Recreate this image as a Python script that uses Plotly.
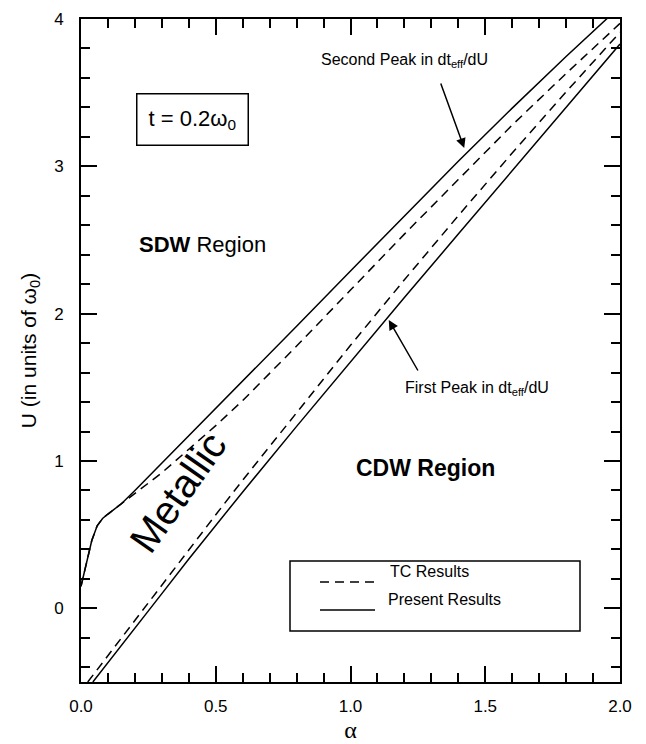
import plotly.graph_objects as go

# ---- data ----
alpha_upper = [0.00, 0.02, 0.04, 0.06, 0.08, 0.10, 0.15, 0.20, 0.30, 0.40, 0.50,
               0.60, 0.80, 1.00, 1.20, 1.40, 1.60, 1.80, 2.00]
U_present_upper = [0.15, 0.31, 0.46, 0.56, 0.61, 0.64, 0.71, 0.80, 0.985, 1.17, 1.355,
                   1.54, 1.915, 2.29, 2.665, 3.035, 3.395, 3.745, 4.085]
U_tc_upper = [0.15, 0.31, 0.46, 0.56, 0.61, 0.64, 0.71, 0.78, 0.92, 1.08, 1.24,
              1.41, 1.78, 2.16, 2.54, 2.91, 3.28, 3.63, 3.97]

alpha_tc_lower = [0.025, 0.10, 0.20, 0.30, 0.40, 0.50, 0.60, 0.80, 1.00, 1.20,
                  1.40, 1.60, 1.80, 2.00]
U_tc_lower = [-0.50, -0.32, -0.08, 0.16, 0.40, 0.635, 0.87, 1.33, 1.785, 2.23,
              2.665, 3.09, 3.505, 3.91]

alpha_present_lower = [0.044, 0.10, 0.20, 0.30, 0.40, 0.50, 0.60, 0.80, 1.00, 1.20,
                       1.40, 1.60, 1.80, 2.00]
U_present_lower = [-0.50, -0.37, -0.135, 0.10, 0.335, 0.565, 0.79, 1.235, 1.675, 2.11,
                   2.54, 2.97, 3.40, 3.83]

legend_labels = ["TC Results", "Present Results"]

FONT = "Arial, Liberation Sans, sans-serif"
DASH = "9px,6px"

fig = go.Figure()
fig.add_trace(go.Scatter(x=alpha_upper, y=U_tc_upper, mode="lines",
                         line=dict(color="black", width=1.5, dash=DASH),
                         name=legend_labels[0], showlegend=False))
fig.add_trace(go.Scatter(x=alpha_tc_lower, y=U_tc_lower, mode="lines",
                         line=dict(color="black", width=1.5, dash=DASH),
                         name=legend_labels[0], showlegend=False))
fig.add_trace(go.Scatter(x=alpha_upper, y=U_present_upper, mode="lines",
                         line=dict(color="black", width=1.5),
                         name=legend_labels[1], showlegend=False))
fig.add_trace(go.Scatter(x=alpha_present_lower, y=U_present_lower, mode="lines",
                         line=dict(color="black", width=1.5),
                         name=legend_labels[1], showlegend=False))

axis_common = dict(
    showline=True, linecolor="black", linewidth=2, mirror="ticks",
    ticks="inside", ticklen=16, tickwidth=1.5, tickcolor="black",
    showgrid=False, zeroline=False, automargin=False,
    tickfont=dict(family=FONT, size=17, color="black"),
)

fig.update_xaxes(range=[0, 2], tick0=0, dtick=0.5, tickformat=".1f",
                 minor=dict(dtick=0.1, tick0=0, ticks="inside", ticklen=9,
                            tickwidth=1.5, tickcolor="black"),
                 ticklabelstandoff=8,
                 title=dict(text="α", font=dict(family="Times New Roman, Liberation Serif, serif",
                                                size=24, color="black"), standoff=6),
                 **axis_common)
fig.update_yaxes(range=[-0.5, 4], tick0=0, dtick=1,
                 minor=dict(dtick=0.2, tick0=0, ticks="inside", ticklen=9,
                            tickwidth=1.5, tickcolor="black"),
                 ticklabelstandoff=12,
                 title=dict(text="U (in units of ω<sub>0</sub>)",
                            font=dict(family=FONT, size=21, color="black"), standoff=12),
                 **axis_common)

ann = []
ann.append(dict(x=0.415, y=3.318, xref="x", yref="y", showarrow=False,
                text="t = 0.2ω<sub>0</sub>", font=dict(family=FONT, size=22, color="black"),
                bordercolor="black", borderwidth=1.5, borderpad=11, bgcolor="white"))
ann.append(dict(x=0.208, y=2.47, xref="x", yref="y", showarrow=False, xanchor="left",
                text="<b>SDW</b> Region", font=dict(family=FONT, size=22, color="black")))
ann.append(dict(x=1.28, y=0.95, xref="x", yref="y", showarrow=False,
                text="<b>CDW Region</b>", font=dict(family=FONT, size=23, color="black")))
ann.append(dict(x=0.36, y=0.79, xref="x", yref="y", showarrow=False, textangle=-55,
                text="Metallic", font=dict(family=FONT, size=40, color="black")))
ann.append(dict(x=1.2, y=3.72, xref="x", yref="y", showarrow=False,
                text="Second Peak in dt<sub>eff</sub>/dU",
                font=dict(family=FONT, size=16, color="black")))
ann.append(dict(x=1.422, y=3.124, xref="x", yref="y", showarrow=True, text="",
                ax=-24, ay=-66, arrowhead=2, arrowsize=1.3, arrowwidth=1.5,
                arrowcolor="black"))
ann.append(dict(x=1.47, y=1.495, xref="x", yref="y", showarrow=False,
                text="First Peak in dt<sub>eff</sub>/dU",
                font=dict(family=FONT, size=16, color="black")))
ann.append(dict(x=1.142, y=1.957, xref="x", yref="y", showarrow=True, text="",
                ax=30, ay=52, arrowhead=2, arrowsize=1.3, arrowwidth=1.5,
                arrowcolor="black"))

# ---- page geometry: the page body adds an 8px margin, so the figure is
# offset by 8px; plot area is placed in page pixels below ----
PAGE_OFF = 8
W, H = 646, 744 - PAGE_OFF
PL, PR, PT, PB = 81, 620, 19, 682          # plot area in page pixels
L, R = PL - PAGE_OFF, (W + PAGE_OFF) - PR
T, B = PT - PAGE_OFF, (H + PAGE_OFF) - PB


def px(x):
    return (x - PL) / (PR - PL)


def py(y):
    return 1 - (y - PT) / (PB - PT)


shapes = [
    dict(type="rect", xref="paper", yref="paper", x0=px(290), x1=px(580),
         y0=py(631), y1=py(561), line=dict(color="black", width=1.5), fillcolor="white",
         layer="above"),
    dict(type="line", xref="paper", yref="paper", x0=px(320), x1=px(375),
         y0=py(582), y1=py(582), line=dict(color="black", width=1.5, dash=DASH)),
    dict(type="line", xref="paper", yref="paper", x0=px(320), x1=px(375),
         y0=py(610), y1=py(610), line=dict(color="black", width=1.5)),
]
ann.append(dict(x=px(388), y=py(582), xref="paper", yref="paper", xanchor="left",
                showarrow=False, text=legend_labels[0],
                font=dict(family=FONT, size=16, color="black")))
ann.append(dict(x=px(386), y=py(610), xref="paper", yref="paper", xanchor="left",
                showarrow=False, text=legend_labels[1],
                font=dict(family=FONT, size=16, color="black")))

fig.update_layout(
    width=W, height=H,
    margin=dict(l=L, r=R, t=T, b=B, autoexpand=False),
    plot_bgcolor="white", paper_bgcolor="white",
    annotations=ann, shapes=shapes, showlegend=False,
)

fig.write_html("out.html")
